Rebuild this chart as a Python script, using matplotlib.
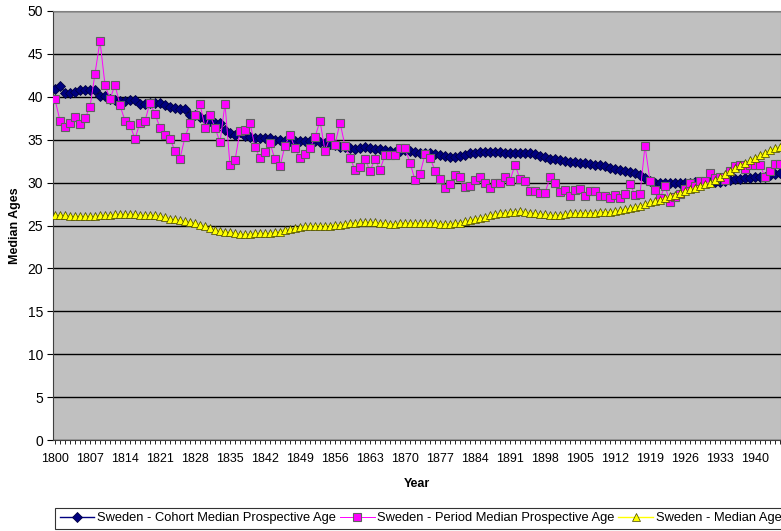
import numpy as np
import matplotlib
matplotlib.use('Agg')
import matplotlib.pyplot as plt
from matplotlib.ticker import MultipleLocator

plt.rcParams['font.family'] = ['Liberation Sans', 'DejaVu Sans']

years = list(range(1800, 1946))

cohort = [40.9, 41.3, 40.5, 40.5, 40.6, 40.8, 40.8, 40.8, 40.8, 40.1,
          40.1, 39.7, 39.6, 39.5, 39.5, 39.6, 39.6, 39.2, 39.2, 39.3,
          39.3, 39.3, 39.1, 38.8, 38.7, 38.6, 38.6, 37.9, 37.9, 37.7,
          37.4, 37.2, 36.9, 36.9, 36.1, 35.8, 35.6, 35.9, 35.4, 35.3,
          35.2, 35.2, 35.2, 35.2, 35.0, 35.0, 34.9, 34.9, 34.8, 34.8,
          34.8, 34.8, 34.8, 34.7, 34.6, 34.5, 34.4, 34.2, 34.1, 34.0,
          33.9, 34.0, 34.1, 34.0, 33.9, 33.9, 33.8, 33.7, 33.6, 33.7,
          33.8, 33.7, 33.6, 33.5, 33.5, 33.4, 33.3, 33.2, 33.1, 33.0,
          33.0, 33.1, 33.2, 33.4, 33.5, 33.6, 33.6, 33.6, 33.6, 33.6,
          33.5, 33.5, 33.5, 33.5, 33.5, 33.4, 33.3, 33.1, 33.0, 32.8,
          32.7, 32.6, 32.5, 32.4, 32.4, 32.3, 32.3, 32.2, 32.1, 32.0,
          31.9, 31.7, 31.6, 31.5, 31.4, 31.2, 31.1, 30.9, 30.5, 30.2,
          30.0, 29.9, 29.9, 29.9, 30.0, 30.0, 30.0, 30.0, 30.1, 30.1,
          30.1, 30.1, 30.1, 30.1, 30.2, 30.3, 30.4, 30.4, 30.5, 30.5,
          30.6, 30.6, 30.7, 30.9, 31.0, 31.1]

period = [39.7, 37.2, 36.5, 36.9, 37.7, 36.8, 37.5, 38.8, 42.7, 46.5,
          41.4, 39.7, 41.4, 39.0, 37.2, 36.7, 35.1, 37.0, 37.2, 39.3,
          38.0, 36.4, 35.5, 35.1, 33.7, 32.8, 35.3, 36.9, 37.9, 39.2,
          36.4, 37.9, 36.4, 34.7, 39.2, 32.0, 32.6, 36.0, 36.1, 37.0,
          34.1, 32.9, 33.6, 34.6, 32.7, 31.9, 34.3, 35.6, 34.0, 32.9,
          33.3, 34.0, 35.3, 37.2, 33.7, 35.3, 34.4, 37.0, 34.3, 32.9,
          31.5, 31.8, 32.7, 31.4, 32.7, 31.5, 33.2, 33.2, 33.2, 34.0,
          34.0, 32.3, 30.3, 31.0, 33.3, 32.9, 31.4, 30.4, 29.4, 29.8,
          30.9, 30.6, 29.5, 29.6, 30.3, 30.7, 29.9, 29.4, 30.0, 30.0,
          30.7, 30.2, 32.1, 30.4, 30.2, 29.0, 29.0, 28.8, 28.8, 30.6,
          30.0, 28.9, 29.1, 28.4, 29.1, 29.2, 28.4, 29.0, 29.0, 28.4,
          28.4, 28.2, 28.6, 28.2, 28.7, 29.8, 28.6, 28.7, 34.3, 30.2,
          29.1, 28.2, 29.6, 27.7, 28.3, 28.7, 29.3, 30.0, 29.6, 30.2,
          30.2, 31.1, 30.5, 30.6, 30.3, 31.3, 31.9, 32.0, 31.6, 32.0,
          32.1, 32.0, 30.7, 31.3, 32.2, 32.2]

median_age = [26.2, 26.2, 26.2, 26.1, 26.1, 26.1, 26.1, 26.1, 26.1, 26.2,
              26.2, 26.2, 26.3, 26.3, 26.3, 26.3, 26.3, 26.2, 26.2, 26.2,
              26.2, 26.1, 26.0, 25.8, 25.7, 25.6, 25.5, 25.4, 25.3, 25.1,
              24.9, 24.7, 24.5, 24.4, 24.3, 24.2, 24.1, 24.0, 24.0, 24.0,
              24.1, 24.1, 24.1, 24.1, 24.2, 24.3, 24.5, 24.6, 24.7, 24.8,
              24.9, 24.9, 25.0, 25.0, 25.0, 25.0, 25.1, 25.1, 25.2, 25.3,
              25.3, 25.4, 25.4, 25.4, 25.4, 25.3, 25.3, 25.2, 25.2, 25.3,
              25.3, 25.3, 25.3, 25.3, 25.3, 25.3, 25.3, 25.2, 25.2, 25.2,
              25.3, 25.3, 25.5, 25.6, 25.8, 25.9, 26.0, 26.2, 26.3, 26.4,
              26.5, 26.6, 26.6, 26.7, 26.6, 26.5, 26.4, 26.3, 26.3, 26.2,
              26.2, 26.2, 26.3, 26.4, 26.4, 26.5, 26.5, 26.5, 26.5, 26.6,
              26.6, 26.6, 26.7, 26.8, 26.9, 27.0, 27.2, 27.3, 27.5, 27.7,
              27.9, 28.0, 28.2, 28.4, 28.6, 28.8, 29.0, 29.2, 29.4, 29.6,
              29.8, 30.0, 30.3, 30.6, 31.0, 31.4, 31.7, 32.0, 32.3, 32.6,
              32.9, 33.2, 33.5, 33.8, 34.0, 34.2]

labels = ['Sweden - Cohort Median Prospective Age',
          'Sweden - Period Median Prospective Age',
          'Sweden - Median Age']

fig = plt.figure(figsize=(7.81, 5.31), dpi=100)
ax = fig.add_axes([53 / 781, 91 / 531, 1 - 53 / 781, 429 / 531])
ax.set_facecolor('#C0C0C0')

ax.plot(years, cohort, color='#000080', lw=1, marker='D', ms=5,
        mfc='#000080', mec='#000040', mew=0.6, label=labels[0], zorder=3)
ax.plot(years, period, color='#FF00FF', lw=0.7, marker='s', ms=6,
        mfc='#FF00FF', mec='#606060', mew=0.8, label=labels[1], zorder=4)
ax.plot(years, median_age, color='#FFFF00', lw=1, marker='^', ms=5.5,
        mfc='#FFFF00', mec='#404000', mew=0.5, label=labels[2], zorder=5)

ax.set_ylim(0, 50)
ax.set_xlim(1799.6, 1945.2)
ax.yaxis.set_major_locator(MultipleLocator(5))
ax.set_xticks(range(1800, 1946, 7))
ax.xaxis.set_minor_locator(MultipleLocator(1))
ax.grid(axis='y', color='black', lw=1)
ax.set_axisbelow(True)

for s in ['top', 'right']:
    ax.spines[s].set_color('#808080')
ax.spines['left'].set_color('#404040')
ax.spines['bottom'].set_color('#404040')

ax.tick_params(axis='y', direction='out', length=4, width=0.8, pad=3,
               labelsize=10, colors='black')
ax.tick_params(axis='x', which='both', direction='out', length=3, width=0.6,
               pad=6, labelsize=9, colors='black')

ax.set_xlabel('Year', fontsize=9, fontweight='bold', labelpad=10)
ax.set_ylabel('Median Ages', fontsize=9, fontweight='bold', labelpad=5)

leg = fig.legend(loc='lower left', bbox_to_anchor=(55 / 781, 2 / 531),
                 ncol=3, fontsize=9.3, frameon=True, fancybox=False,
                 handlelength=2.7, handletextpad=0.2, columnspacing=0.3,
                 borderpad=0.35, borderaxespad=0)
leg.get_frame().set_edgecolor('black')
leg.get_frame().set_linewidth(0.8)

fig.savefig('out.png', dpi=100)
